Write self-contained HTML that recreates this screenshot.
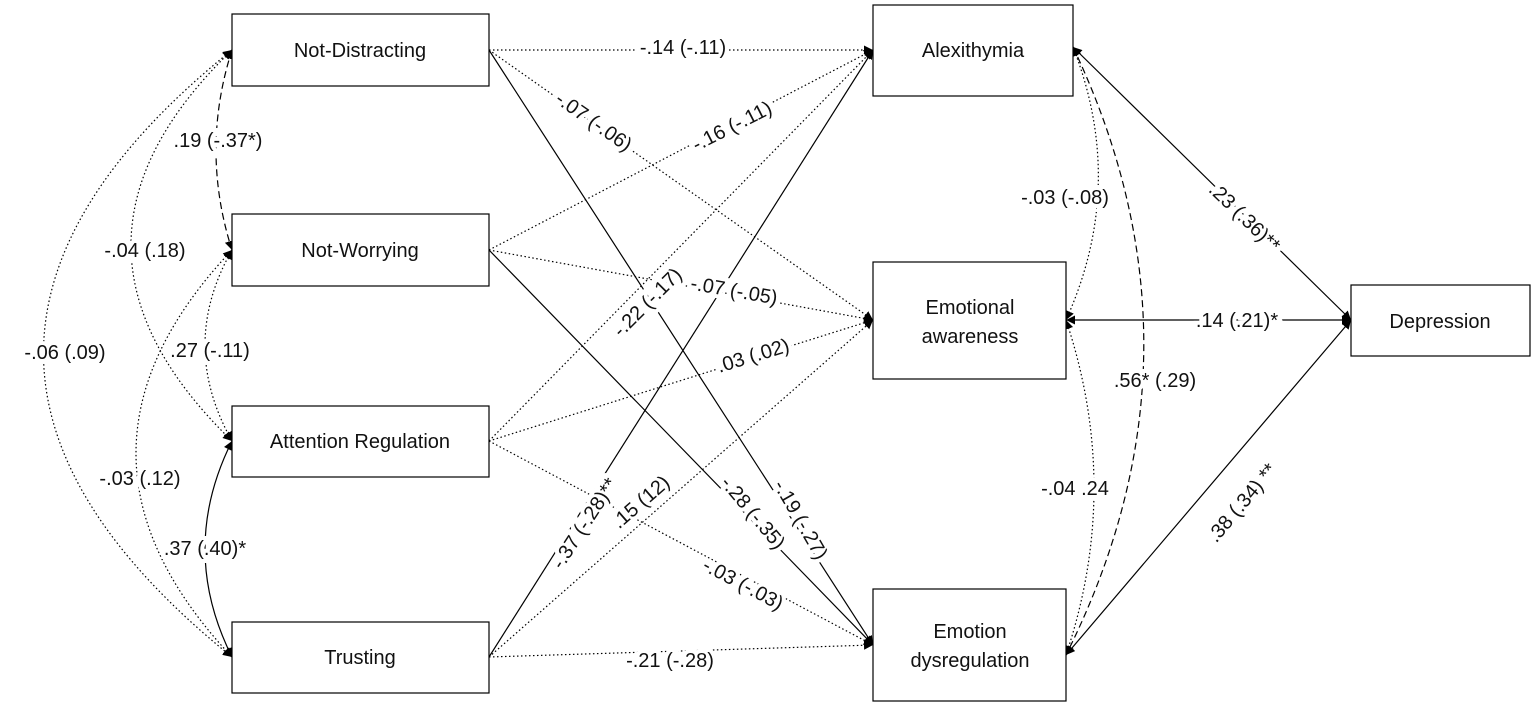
<!DOCTYPE html>
<html><head><meta charset="utf-8"><style>
html,body{margin:0;padding:0;background:#fff}
svg text{font-family:"Liberation Sans",Arial,sans-serif;font-size:20px;fill:#111}
</style></head><body>
<svg width="1535" height="713" viewBox="0 0 1535 713" xmlns="http://www.w3.org/2000/svg">
<defs>
<marker id="a" viewBox="0 0 10 10" refX="10" refY="5" markerWidth="9" markerHeight="9" markerUnits="userSpaceOnUse" orient="auto-start-reverse">
<path d="M0,0 L10,5 L0,10 z" fill="#000"/></marker>
</defs>
<g fill="none" stroke="#000" stroke-width="1.2">
<g stroke-dasharray="1.5,2.5">
<line x1="489" y1="50" x2="873" y2="50" marker-end="url(#a)"/>
<line x1="489" y1="50" x2="873" y2="320" marker-end="url(#a)"/>
<line x1="489" y1="250" x2="873" y2="50" marker-end="url(#a)"/>
<line x1="489" y1="250" x2="873" y2="320" marker-end="url(#a)"/>
<line x1="489" y1="441" x2="873" y2="50" marker-end="url(#a)"/>
<line x1="489" y1="441" x2="873" y2="320" marker-end="url(#a)"/>
<line x1="489" y1="441" x2="873" y2="645" marker-end="url(#a)"/>
<line x1="489" y1="657" x2="873" y2="320" marker-end="url(#a)"/>
<line x1="489" y1="657" x2="873" y2="645" marker-end="url(#a)"/>
</g>
<line x1="489" y1="50" x2="873" y2="645" marker-end="url(#a)"/>
<line x1="489" y1="250" x2="873" y2="645" marker-end="url(#a)"/>
<line x1="489" y1="657" x2="873" y2="50" marker-end="url(#a)"/>
<line x1="1073" y1="47" x2="1351" y2="320" marker-start="url(#a)" marker-end="url(#a)"/>
<line x1="1066" y1="320" x2="1351" y2="320" marker-start="url(#a)" marker-end="url(#a)"/>
<line x1="1066" y1="655" x2="1351" y2="320" marker-start="url(#a)" marker-end="url(#a)"/>
<path d="M232 50 Q200 150 232 250" stroke-dasharray="7,4" marker-start="url(#a)" marker-end="url(#a)"/>
<path d="M232 50 Q30 245 232 441" stroke-dasharray="1.5,2.5" marker-start="url(#a)" marker-end="url(#a)"/>
<path d="M232 50 Q-145 353 232 657" stroke-dasharray="1.5,2.5" marker-start="url(#a)" marker-end="url(#a)"/>
<path d="M232 250 Q178 345 232 441" stroke-dasharray="1.5,2.5" marker-start="url(#a)" marker-end="url(#a)"/>
<path d="M232 250 Q40 453 232 657" stroke-dasharray="1.5,2.5" marker-start="url(#a)" marker-end="url(#a)"/>
<path d="M232 441 Q178 549 232 657" marker-start="url(#a)" marker-end="url(#a)"/>
<path d="M1073 47 Q1127 185 1066 320" stroke-dasharray="1.5,2.5" marker-start="url(#a)" marker-end="url(#a)"/>
<path d="M1066 320 Q1122 488 1066 655" stroke-dasharray="1.5,2.5" marker-start="url(#a)" marker-end="url(#a)"/>
<path d="M1073 47 Q1218 352 1066 655" stroke-dasharray="7,4" marker-start="url(#a)" marker-end="url(#a)"/>
</g>
<g fill="#fff" stroke="#000" stroke-width="1.2">
<rect x="232" y="14" width="257" height="72"/>
<rect x="232" y="214" width="257" height="72"/>
<rect x="232" y="406" width="257" height="71"/>
<rect x="232" y="622" width="257" height="71"/>
<rect x="873" y="5" width="200" height="91"/>
<rect x="873" y="262" width="193" height="117"/>
<rect x="873" y="589" width="193" height="112"/>
<rect x="1351" y="285" width="179" height="71"/>
</g>
<g text-anchor="middle">
<text x="360" y="57">Not-Distracting</text>
<text x="360" y="257">Not-Worrying</text>
<text x="360" y="448">Attention Regulation</text>
<text x="360" y="664">Trusting</text>
<text x="973" y="57">Alexithymia</text>
<text x="970" y="314">Emotional</text>
<text x="970" y="343">awareness</text>
<text x="970" y="638">Emotion</text>
<text x="970" y="667">dysregulation</text>
<text x="1440" y="328">Depression</text>
</g>
<g text-anchor="middle" style="paint-order:stroke" stroke="#fff" stroke-width="8">
<text x="683" y="54">-.14 (-.11)</text>
<text transform="translate(590,127) rotate(35)">-.07 (-.06)</text>
<text transform="translate(795,523) rotate(60)">-.19 (-.27)</text>
<text transform="translate(735,132) rotate(-27)">-.16 (-.11)</text>
<text transform="translate(733,297) rotate(10)">-.07 (-.05)</text>
<text transform="translate(748,517) rotate(50)">-.28 (-.35)</text>
<text transform="translate(652,307) rotate(-45)">-.22 (-.17)</text>
<text transform="translate(755,362) rotate(-17)">.03 (.02)</text>
<text transform="translate(740,590) rotate(28)">-.03 (-.03)</text>
<text transform="translate(590,527) rotate(-57)">-.37 (-.28)**</text>
<text transform="translate(645,507) rotate(-41)">.15 (12)</text>
<text x="670" y="667">-.21 (-.28)</text>
<text transform="translate(1240,222) rotate(44)">.23 (.36)**</text>
<text x="1237" y="327">.14 (.21)*</text>
<text transform="translate(1247,507) rotate(-50)">.38 (.34) **</text>
<text x="1065" y="204">-.03 (-.08)</text>
<text x="1075" y="495">-.04 .24</text>
<text x="1155" y="387">.56* (.29)</text>
<text x="218" y="147">.19 (-.37*)</text>
<text x="145" y="257">-.04 (.18)</text>
<text x="65" y="359">-.06 (.09)</text>
<text x="210" y="357">.27 (-.11)</text>
<text x="140" y="485">-.03 (.12)</text>
<text x="205" y="555">.37 (.40)*</text>
</g>
</svg>
</body></html>
